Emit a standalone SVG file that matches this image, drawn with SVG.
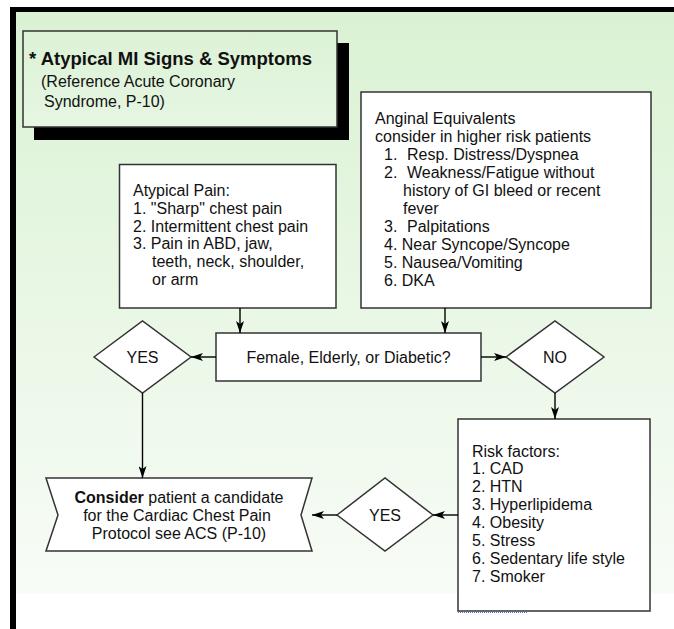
<svg xmlns="http://www.w3.org/2000/svg" width="674" height="629" viewBox="0 0 674 629">
<defs>
<linearGradient id="bg" x1="0" y1="0" x2="0" y2="1">
<stop offset="0" stop-color="#daf2d3"/>
<stop offset="1" stop-color="#f8fcf7"/>
</linearGradient>
<linearGradient id="tb" x1="0" y1="0" x2="0" y2="1">
<stop offset="0" stop-color="#dcf2d6"/>
<stop offset="1" stop-color="#e6f6e2"/>
</linearGradient>
<marker id="ah" viewBox="0 0 12 8" refX="12" refY="4" markerWidth="12" markerHeight="8" markerUnits="userSpaceOnUse" orient="auto">
<path d="M0,0 L12,4 L0,8 L3,4 z" fill="#000"/>
</marker>
</defs>
<style>
.box{fill:#fff;stroke:#333;stroke-width:1.5}
.t{font-family:"Liberation Sans",Arial,sans-serif;font-size:16px;fill:#111}
.m{text-anchor:middle}
.b{font-weight:bold}
.c{stroke:#000;stroke-width:1.4;fill:none;marker-end:url(#ah)}
</style>
<rect x="16" y="12" width="658" height="582" fill="url(#bg)"/>
<rect x="10" y="7" width="664" height="5" fill="#000"/>
<rect x="10" y="7" width="6" height="622" fill="#000"/>

<g id="title">
<rect x="34" y="43" width="315" height="97" fill="#000"/>
<rect x="23" y="31" width="314" height="96" fill="url(#tb)" stroke="#333" stroke-width="1.5"/>
<text class="t b" x="29" y="65" style="font-size:18.5px">* Atypical MI Signs &amp; Symptoms</text>
<text class="t" x="41" y="87">(Reference Acute Coronary</text>
<text class="t" x="44" y="107">Syndrome, P-10)</text>
</g>

<g id="atypical-pain">
<rect class="box" x="119.5" y="164.5" width="216.5" height="143.5"/>
<text class="t" x="133" y="196">Atypical Pain:</text>
<text class="t" x="133" y="213.8">1. "Sharp" chest pain</text>
<text class="t" x="133" y="231.6">2. Intermittent chest pain</text>
<text class="t" x="133" y="249.4">3. Pain in ABD, jaw,</text>
<text class="t" x="152" y="267.2">teeth, neck, shoulder,</text>
<text class="t" x="152" y="285">or arm</text>
</g>

<g id="anginal">
<rect class="box" x="361" y="92" width="290" height="216"/>
<text class="t" x="375" y="124">Anginal Equivalents</text>
<text class="t" x="375" y="142">consider in higher risk patients</text>
<text class="t" x="384" y="160">1.<tspan x="407">Resp. Distress/Dyspnea</tspan></text>
<text class="t" x="384" y="178">2.<tspan x="407">Weakness/Fatigue without</tspan></text>
<text class="t" x="403" y="196">history of GI bleed or recent</text>
<text class="t" x="403" y="214">fever</text>
<text class="t" x="384" y="232">3.<tspan x="407">Palpitations</tspan></text>
<text class="t" x="384" y="250">4. Near Syncope/Syncope</text>
<text class="t" x="384" y="268">5. Nausea/Vomiting</text>
<text class="t" x="384" y="286">6. DKA</text>
</g>

<g id="decision">
<rect class="box" x="216" y="333" width="265" height="48"/>
<text class="t m" x="348.5" y="362.5">Female, Elderly, or Diabetic?</text>
</g>

<g id="yes1">
<polygon class="box" points="94,357 142.5,321 191,357 142.5,393"/>
<text class="t m" x="142.5" y="362.5">YES</text>
</g>

<g id="no">
<polygon class="box" points="506,357 555,321 604,357 555,393"/>
<text class="t m" x="555" y="362.5">NO</text>
</g>

<g id="risk">
<rect class="box" x="458" y="419" width="192" height="192"/>
<text class="t" x="472" y="456.5">Risk factors:</text>
<text class="t" x="472" y="474.4">1. CAD</text>
<text class="t" x="472" y="492.3">2. HTN</text>
<text class="t" x="472" y="510.2">3. Hyperlipidema</text>
<text class="t" x="472" y="528.1">4. Obesity</text>
<text class="t" x="472" y="546">5. Stress</text>
<text class="t" x="472" y="563.9">6. Sedentary life style</text>
<text class="t" x="472" y="581.8">7. Smoker</text>
<line x1="458" y1="612.5" x2="528" y2="612.5" stroke="#5a78e0" stroke-width="1" stroke-dasharray="1,1"/>
</g>

<g id="yes2">
<polygon class="box" points="337,515 385,478 433,515 385,551"/>
<text class="t m" x="385" y="520.5">YES</text>
</g>

<g id="consider">
<path class="box" d="M46,478 L312,478 L301,515 L312,551 L46,551 L58,515 Z"/>
<text class="t m" x="179" y="503"><tspan class="b">Consider</tspan> patient a candidate</text>
<text class="t m" x="177" y="521">for the Cardiac Chest Pain</text>
<text class="t m" x="179" y="538.5">Protocol see ACS (P-10)</text>
</g>

<g id="connectors">
<line class="c" x1="240" y1="308" x2="240" y2="333"/>
<line class="c" x1="445" y1="308" x2="445" y2="333"/>
<line class="c" x1="216" y1="357" x2="191" y2="357"/>
<line class="c" x1="481" y1="357" x2="506" y2="357"/>
<line class="c" x1="555" y1="393" x2="555" y2="419"/>
<line class="c" x1="142.5" y1="393" x2="142.5" y2="478"/>
<line class="c" x1="458" y1="515" x2="433" y2="515"/>
<line class="c" x1="337" y1="515" x2="312" y2="515"/>
</g>
</svg>
